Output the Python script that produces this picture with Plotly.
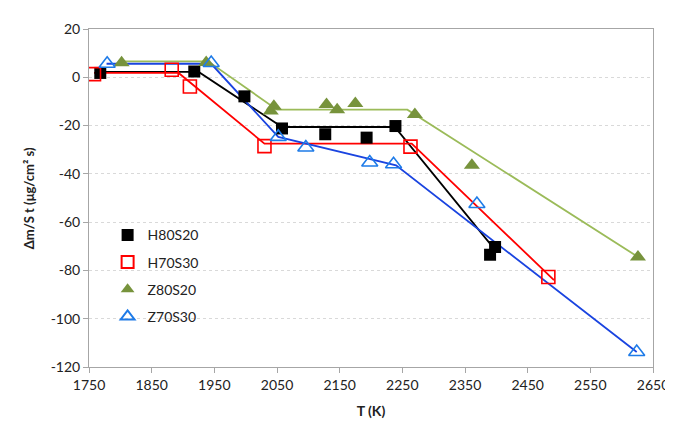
import plotly.graph_objects as go

# Measured points
T_H80S20 = [1768, 1918, 1998, 2058, 2127, 2193, 2239, 2390, 2398]
V_H80S20 = [1.8, 2.4, -7.9, -21.2, -23.6, -25.0, -20.2, -73.5, -70.3]

T_H70S30 = [1758, 1882, 1911, 2030, 2263, 2483]
V_H70S30 = [1.3, 3.1, -3.8, -28.5, -28.7, -82.7]

T_Z80S20 = [1802, 1937, 2040, 2045, 2129, 2146, 2175, 2270, 2361, 2626]
V_Z80S20 = [6.0, 6.1, -14.0, -12.0, -11.3, -13.4, -10.9, -15.4, -36.4, -74.4]

T_Z70S30 = [1779, 1945, 2052, 2096, 2198, 2236, 2369, 2624]
V_Z70S30 = [5.6, 5.9, -24.7, -29.1, -35.3, -36.0, -52.5, -113.8]

# Piecewise trend lines (breakpoints)
LT_H80S20 = [1767, 1925, 2058, 2238, 2398]
LV_H80S20 = [2.2, 2.2, -20.6, -20.6, -71.5]
LT_H70S30 = [1758, 1893, 2030, 2265, 2492]
LV_H70S30 = [1.8, 1.8, -27.5, -27.5, -84.0]
LT_Z80S20 = [1802, 1940, 2050, 2258, 2626]
LV_Z80S20 = [6.6, 6.6, -13.4, -13.4, -74.4]
LT_Z70S30 = [1778, 1945, 2052, 2240, 2624]
LV_Z70S30 = [5.6, 5.6, -24.7, -36.5, -113.8]

X_TICKS = [1750, 1850, 1950, 2050, 2150, 2250, 2350, 2450, 2550, 2650]
Y_TICKS = [20, 0, -20, -40, -60, -80, -100, -120]

FONT = "Lato, 'Open Sans', sans-serif"

fig = go.Figure()

series = [
    ("H80S20", T_H80S20, V_H80S20, LT_H80S20, LV_H80S20, "#000000",
     dict(symbol="square", size=12, color="#000000")),
    ("H70S30", T_H70S30, V_H70S30, LT_H70S30, LV_H70S30, "#ff0000",
     dict(symbol="square-open", size=13, color="#ff0000", line=dict(width=1.6, color="#ff0000"))),
    ("Z80S20", T_Z80S20, V_Z80S20, LT_Z80S20, LV_Z80S20, "#9bbb59",
     dict(symbol="triangle-up", size=14, color="#77933c")),
    ("Z70S30", T_Z70S30, V_Z70S30, LT_Z70S30, LV_Z70S30, "#1a44e0",
     dict(symbol="triangle-up-open", size=14, color="#1e7be8", line=dict(width=1.6, color="#1e7be8"))),
]

for name, tx, vy, lx, ly, lc, mk in series:
    fig.add_trace(go.Scatter(x=lx, y=ly, mode="lines", line=dict(color=lc, width=1.8),
                             showlegend=False, legendgroup=name, hoverinfo="skip"))
for name, tx, vy, lx, ly, lc, mk in series:
    fig.add_trace(go.Scatter(x=tx, y=vy, mode="markers", marker=mk, name=name,
                             legendgroup=name, showlegend=True))

fig.update_layout(
    width=673, height=422,
    margin=dict(l=81, r=18, t=19, b=63),
    paper_bgcolor="white", plot_bgcolor="white",
    font=dict(family=FONT, size=14, color="#222222"),
    legend=dict(x=0.033, y=0.437, xanchor="left", yanchor="top",
                bgcolor="rgba(0,0,0,0)", font=dict(size=14, color="#222222"),
                traceorder="grouped", tracegroupgap=6, itemwidth=30,
                itemsizing="constant"),
    xaxis=dict(range=[1750, 2650], tickvals=X_TICKS, ticktext=[str(v) for v in X_TICKS],
               showgrid=False, zeroline=False, showline=True, linecolor="#a6a6a6",
               linewidth=1, mirror=True, ticks="outside", ticklen=5, tickcolor="#a6a6a6",
               title=dict(text="<b>T (K)</b>", font=dict(size=14, color="#222222"), standoff=14)),
    yaxis=dict(range=[-120, 20], tickvals=Y_TICKS, ticktext=[str(v) for v in Y_TICKS],
               showgrid=True, gridcolor="#d9d9d9", griddash="dot", gridwidth=1,
               zeroline=False, showline=True, linecolor="#a6a6a6", linewidth=1, mirror=True,
               ticks="outside", ticklen=5, tickcolor="#a6a6a6"),
    annotations=[dict(text="<b>Δm/S t (μg/cm² s)</b>", textangle=-90,
                      xref="paper", yref="paper", x=-0.106, y=0.5,
                      xanchor="center", yanchor="middle", showarrow=False,
                      font=dict(family=FONT, size=13, color="#222222"))],
)

fig.write_html("out.html")
